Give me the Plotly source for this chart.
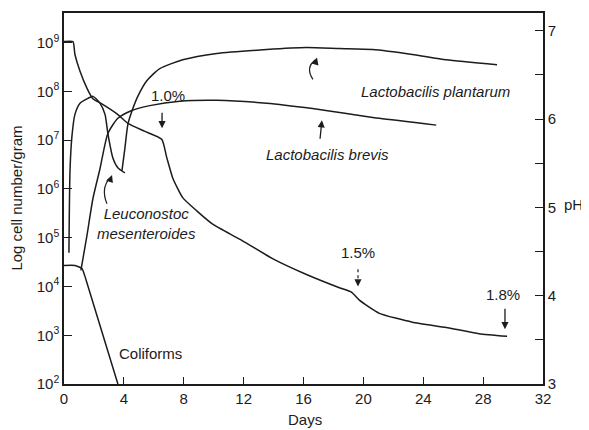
import plotly.graph_objects as go

# ---------------- data ----------------
ph_days = [0.0, 0.6, 0.73, 1.07, 1.53, 1.93, 2.53, 3.6, 4.27, 5.4, 6.53, 6.87, 7.27, 7.93, 8.87,
           9.93, 11.73, 13.93, 16.2, 18.4, 19.2, 19.73, 21.07, 23.27, 25.53, 27.73, 29.6]
ph_vals = [6.876, 6.876, 6.73, 6.54, 6.35, 6.23, 6.17, 6.05, 5.95, 5.86, 5.77, 5.56, 5.33, 5.11, 4.96,
           4.81, 4.64, 4.42, 4.24, 4.09, 4.04, 3.95, 3.80, 3.70, 3.64, 3.57, 3.54]

coli_days = [0.0, 0.73, 1.2, 1.47, 3.6]
coli_log = [4.43, 4.43, 4.37, 4.14, 2.0]

leuco_days = [0.33, 0.4, 0.53, 0.73, 1.07, 1.6, 1.94, 2.4, 2.74, 2.94, 3.27, 3.61, 4.07]
leuco_log = [4.69, 6.37, 7.08, 7.53, 7.76, 7.86, 7.90, 7.76, 7.53, 7.12, 6.63, 6.43, 6.33]

brevis_days = [1.13, 1.53, 1.93, 2.4, 2.93, 3.6, 4.53, 5.73, 7.73, 10.2, 13.53, 16.6, 18.87, 21.07, 24.87]
brevis_log = [4.33, 5.04, 5.80, 6.41, 7.14, 7.45, 7.61, 7.71, 7.80, 7.82, 7.76, 7.65, 7.55, 7.45, 7.31]

plant_days = [3.87, 4.07, 4.27, 4.6, 4.93, 5.53, 6.4, 7.93, 10.2, 13.53, 16.2, 18.4, 20.6, 23.27, 25.53, 28.93]
plant_log = [6.37, 6.84, 7.33, 7.65, 7.90, 8.22, 8.47, 8.65, 8.78, 8.86, 8.90, 8.88, 8.86, 8.76, 8.65, 8.55]

x_ticks = [0, 4, 8, 12, 16, 20, 24, 28, 32]
y_exps = [2, 3, 4, 5, 6, 7, 8, 9]
ph_ticks = [3, 3.5, 4, 4.5, 5, 5.5, 6, 6.5, 7]

FONT = "Liberation Sans, Arial, sans-serif"
INK = "#1c1c1c"
FS = 15

fig = go.Figure()

def cell_trace(days, logs, smooth=0.6):
    return go.Scatter(x=days, y=[10 ** v for v in logs], mode="lines",
                      line=dict(color=INK, width=1.5, shape="spline", smoothing=smooth),
                      showlegend=False, hoverinfo="skip")

fig.add_trace(cell_trace(coli_days, coli_log, 0.5))
fig.add_trace(cell_trace(leuco_days, leuco_log, 0.6))
fig.add_trace(cell_trace(brevis_days, brevis_log, 0.6))
fig.add_trace(cell_trace(plant_days, plant_log, 0.6))
fig.add_trace(go.Scatter(x=ph_days, y=ph_vals, yaxis="y2", mode="lines",
                         line=dict(color=INK, width=1.5, shape="spline", smoothing=0.5),
                         showlegend=False, hoverinfo="skip"))

ann = []
def label(text, x, y, size=FS, italic=False, **kw):
    t = f"<i>{text}</i>" if italic else text
    ann.append(dict(text=t, x=x, y=y, xref="x", yref="y2", showarrow=False,
                    xanchor="center", yanchor="middle",
                    font=dict(family=FONT, size=size, color=INK), **kw))

def arrow(x, y, ax, ay):
    ann.append(dict(text="", x=x, y=y, xref="x", yref="y2", ax=ax, ay=ay,
                    showarrow=True, arrowhead=2, arrowsize=1.1, arrowwidth=1.3,
                    arrowcolor=INK))

label("Lactobacilis plantarum", 24.85, 6.313, italic=True)
label("Lactobacilis brevis", 17.57, 5.603, italic=True)
label("1.0%", 6.95, 6.268)
label("1.5%", 19.64, 4.487)
label("1.8%", 29.33, 4.014)
label("Leuconostoc<br>mesenteroides", 5.48, 4.814, italic=True)
label("Coliforms", 5.75, 3.35)

arrow(6.55, 5.896, 0, -17)
arrow(29.46, 3.62, 0, -22)
arrow(17.23, 5.986, -2, 20)
arrow(19.64, 4.104, 0, -8)
arrow(16.9, 6.696, -2, 7)
arrow(3.21, 5.366, -3, 8)

# titles
ann.append(dict(text="Log cell number/gram", x=-0.1, y=0.5, xref="paper", yref="paper",
                xanchor="center", yanchor="middle",
                textangle=-90, showarrow=False, font=dict(family=FONT, size=FS, color=INK)))
ann.append(dict(text="pH", x=1.0647, y=0.4826, xref="paper", yref="paper",
                xanchor="center", yanchor="middle",
                showarrow=False, font=dict(family=FONT, size=FS, color=INK)))
ann.append(dict(text="Days", x=0.503, y=-0.0965, xref="paper", yref="paper",
                xanchor="center", yanchor="middle",
                showarrow=False, font=dict(family=FONT, size=FS, color=INK)))

shapes = [
    # dotted shaft of the 1.5% arrow
    dict(type="line", xref="x", yref="y2", x0=19.64, x1=19.64, y0=4.30, y1=4.16,
         line=dict(color=INK, width=1.2, dash="dot")),
    # curved leader of plantarum label
    dict(type="path", xref="x", yref="y2",
         path="M 16.63 6.448 Q 16.1 6.583 16.8 6.67", line=dict(color=INK, width=1.2)),
    # curved leader of Leuconostoc label
    dict(type="path", xref="x", yref="y2",
         path="M 2.87 5.04 Q 2.45 5.21 3.05 5.33", line=dict(color=INK, width=1.2)),
]

tickfont = dict(family=FONT, size=FS, color=INK)
# page body has an 8px margin: shift the figure so the plot area lands where the reference has it
fig.update_layout(
    width=581, height=422,
    margin=dict(l=56, r=46, t=3, b=46),
    paper_bgcolor="white", plot_bgcolor="white",
    annotations=ann, shapes=shapes,
    xaxis=dict(range=[0, 32], tickvals=x_ticks, ticks="inside", ticklen=7, tickwidth=1.2,
               tickcolor=INK, showline=True, linecolor=INK, linewidth=1.5, mirror=True,
               showgrid=False, zeroline=False, tickfont=tickfont),
    yaxis=dict(type="log", range=[2, 9.61], tickvals=[10 ** e for e in y_exps],
               ticktext=[f"10<sup>{e}</sup>" for e in y_exps], ticks="inside", ticklen=8,
               tickwidth=1.2, tickcolor=INK, showline=True, linecolor=INK, linewidth=1.5,
               showgrid=False, zeroline=False, tickfont=tickfont),
    yaxis2=dict(overlaying="y", side="right", range=[3, 7.2], tickvals=ph_ticks,
                ticktext=[("%g" % t) if t == int(t) else "" for t in ph_ticks],
                ticks="inside", ticklen=8, tickwidth=1.2, tickcolor=INK, showline=True,
                linecolor=INK, linewidth=1.5, showgrid=False, zeroline=False, tickfont=tickfont),
)

fig.write_html("out.html")
